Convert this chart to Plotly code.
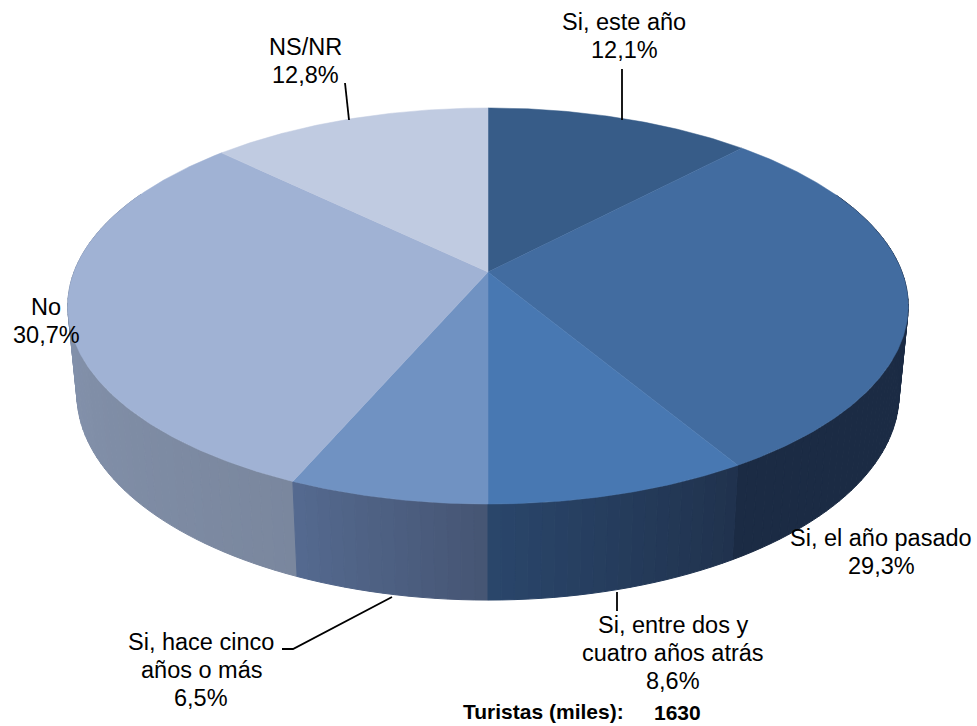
import numpy as np
import plotly.graph_objects as go

# ---- data ----
categories = ["Si, este año", "Si, el año pasado", "Si, entre dos y<br>cuatro años atrás",
              "Si, hace cinco<br>años o más", "No", "NS/NR"]
values = [12.1, 29.3, 8.6, 6.5, 30.7, 12.8]
total_label = "Turistas (miles):"
total_value = "1630"

top_colors = ["#375C88", "#426CA0", "#4878B2", "#7092C2", "#A0B2D4", "#C0CBE1"]
wall_from = ["#1B2B44", "#1B2B44", "#20324D", "#465573", "#7A879E", "#C0CBE1"]
wall_to = ["#1B2B44", "#1B2B44", "#2A466B", "#546A90", "#8C9CB9", "#C0CBE1"]

W, H = 977, 726
# perspective view of the disc
CX, PERSP = 488.0, 0.1717
TOP = dict(y0=272.0, a=192.2, A=414.0)
BOT = dict(y0=358.6, a=200.0, A=405.0)


def project(theta_deg, d):
    t = np.radians(theta_deg)
    den = 1 + PERSP * np.cos(t)
    return CX + d["A"] * np.sin(t) / den, d["y0"] - d["a"] * np.cos(t) / den


def hexrgb(h):
    return np.array([int(h[i:i + 2], 16) for i in (1, 3, 5)], float)


def mix(c1, c2, f):
    r = hexrgb(c1) * (1 - f) + hexrgb(c2) * f
    return "rgb(%d,%d,%d)" % tuple(r.round())


edges = np.concatenate([[0], np.cumsum(values)]) / np.sum(values) * 360
fig = go.Figure()


def poly(xs, ys, color, lw=1.0):
    fig.add_trace(go.Scatter(x=xs, y=ys, mode="lines", fill="toself", fillcolor=color,
                             line=dict(color=color, width=lw), hoverinfo="skip",
                             showlegend=False))


# side wall: outer parts first, meeting in the front
strips = []
for i, (a0, a1) in enumerate(zip(edges[:-1], edges[1:])):
    n = max(2, int((a1 - a0) / 1.5))
    th = np.linspace(a0, a1, n + 1)
    for j in range(n):
        strips.append((th[j], th[j + 1], mix(wall_from[i], wall_to[i], (j + 0.5) / n)))
strips.sort(key=lambda s: abs(((s[0] + s[1]) / 2) - 180), reverse=True)
for a0, a1, col in strips:
    if abs((a0 + a1) / 2 - 180) > 115:
        continue
    th = np.linspace(a0, a1, 4)
    xt, yt = project(th, TOP)
    xb, yb = project(th[::-1], BOT)
    poly(np.r_[xt, xb, xt[0]], np.r_[yt, yb, yt[0]], col)

# top face
for i, (a0, a1) in enumerate(zip(edges[:-1], edges[1:])):
    th = np.r_[np.arange(a0, a1, 0.5), a1]
    x, y = project(th, TOP)
    poly(np.r_[CX, x, CX], np.r_[TOP["y0"], y, TOP["y0"]], top_colors[i], 0.5)

# leader lines
leaders = [([622, 622], [69, 120]), ([345, 349], [83, 120]), ([617, 617], [592, 611]),
           ([392, 293, 282], [597, 649, 649])]
for lx, ly in leaders:
    fig.add_trace(go.Scatter(x=lx, y=ly, mode="lines", line=dict(color="black", width=1.8),
                             hoverinfo="skip", showlegend=False))

# x centre and y of the first text line for each label
label_pos = [(624, 22), (881, 538), (673, 625), (201, 642), (46, 307), (305, 47)]
LINE = 28.2
for cat, val, (lx, ly) in zip(categories, values, label_pos):
    lines = cat.split("<br>") + [f"{val:.1f}%".replace(".", ",")]
    for k, txt in enumerate(lines):
        fig.add_annotation(x=lx, y=ly + k * LINE, text=txt, showarrow=False, xanchor="center",
                           yanchor="middle", align="center",
                           font=dict(family="Liberation Sans", size=23.5, color="black"))

fig.add_annotation(x=626, y=711.5, text=f"<b>{total_label}</b>", showarrow=False, xanchor="right",
                   yanchor="middle", font=dict(family="Liberation Sans", size=21, color="black"))
fig.add_annotation(x=677, y=712, text=f"<b>{total_value}</b>", showarrow=False, xanchor="center",
                   yanchor="middle", font=dict(family="Liberation Sans", size=21, color="black"))

fig.update_layout(width=W, height=H, margin=dict(l=0, r=0, t=0, b=0),
                  paper_bgcolor="white", plot_bgcolor="white", showlegend=False,
                  xaxis=dict(range=[0, W], visible=False, fixedrange=True),
                  yaxis=dict(range=[H, 0], visible=False, fixedrange=True))
fig.write_html("out.html", config=dict(displayModeBar=False),
               post_script="document.body.style.margin='0';document.documentElement.style.overflow='hidden';")
